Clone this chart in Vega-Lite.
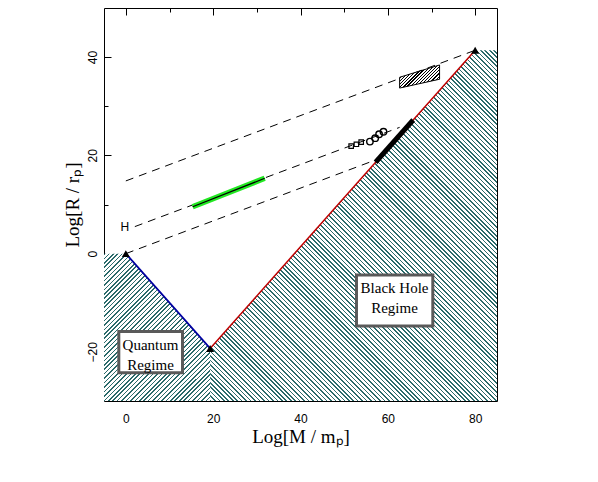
{
"$schema": "https://vega.github.io/schema/vega-lite/v6.json",
"width": 393, "height": 393,
"autosize": {"type": "none"},
"padding": {"left": 104, "top": 8, "right": 101, "bottom": 81},
"background": "white",
"config": {
  "view": {"stroke": null},
  "axis": {"grid": false, "zindex": 1, "domain": false, "tickColor": "black", "tickWidth": 1, "labelColor": "black", "labelFont": "Liberation Sans", "labelFontSize": 12, "labelFlush": false, "titleColor": "black", "titleFont": "Liberation Serif", "titleFontSize": 19, "titleFontWeight": "normal", "domainColor": "black", "domainWidth": 1}
},
"datasets": {
  "quantumHatch": [{"x": -5, "y": 0, "y2": -30}, {"x": 0, "y": 0, "y2": -30}, {"x": 19.3, "y": -19.3, "y2": -30}],
  "blackHoleHatch": [{"x": 19.3, "y": -19.3, "y2": -30}, {"x": 80, "y": 41.4, "y2": -30}, {"x": 85, "y": 41.4, "y2": -30}],
  "compton": [{"x": 0, "y": 0}, {"x": 19.3, "y": -19.3}],
  "schwarzschild": [{"x": 19.3, "y": -19.3}, {"x": 80, "y": 41.4}],
  "thick": [{"x": 57.2, "y": 18.6}, {"x": 65.8, "y": 27.2}],
  "density": [
    {"s": "upper", "x": 0, "y": 14.8}, {"s": "upper", "x": 80, "y": 41.4},
    {"s": "middle", "x": 2.06, "y": 5.5}, {"s": "middle", "x": 62.7, "y": 25.7},
    {"s": "lower", "x": 0, "y": 0}, {"s": "lower", "x": 57.2, "y": 19.07}
  ],
  "green": [{"x": 15.3, "y": 9.55}, {"x": 31.8, "y": 15.33}],
  "box": [{"x": 62.7, "y": 35.9, "y2": 33.7}, {"x": 71.85, "y": 38.4, "y2": 35.5}],
  "squares": [{"x": 51.6, "y": 21.9}, {"x": 52.8, "y": 22.26}, {"x": 53.9, "y": 22.7}],
  "circles": [{"x": 55.9, "y": 22.8}, {"x": 57.1, "y": 23.5}, {"x": 58.0, "y": 24.3}, {"x": 59.0, "y": 24.8}],
  "triangles": [{"x": 0, "y": 0}, {"x": 19.3, "y": -19.3}, {"x": 80, "y": 41.4}],
  "regimes": [
    {"label": "Quantum\nRegime", "x1": -1.61, "x2": 12.98, "y1": -24.26, "y2": -15.85, "xc": 5.65, "yc": -20.64},
    {"label": "Black Hole\nRegime", "x1": 52.82, "x2": 70.3, "y1": -14.73, "y2": -4.35, "xc": 61.53, "yc": -9.03}
  ],
  "hlabel": [{"x": -0.23, "y": 5.4, "label": "H"}]
},
"resolve": {"axis": {"x": "independent", "y": "independent"}},
"layer": [
{
  "data": {"name": "quantumHatch"},
  "mark": {"type": "area", "opacity": 1, "fill": {"gradient": "linear", "x1": 0, "y1": 0, "x2": 0.8155, "y2": 1.1329, "stops": [
{"offset":0,"color":"#2b6b6b"},{"offset":0.00625,"color":"#2b6b6b"},{"offset":0.00625,"color":"#fff"},{"offset":0.0175,"color":"#fff"},
{"offset":0.0175,"color":"#2b6b6b"},{"offset":0.02375,"color":"#2b6b6b"},{"offset":0.02375,"color":"#fff"},{"offset":0.035,"color":"#fff"},
{"offset":0.035,"color":"#2b6b6b"},{"offset":0.04125,"color":"#2b6b6b"},{"offset":0.04125,"color":"#fff"},{"offset":0.0525,"color":"#fff"},
{"offset":0.0525,"color":"#2b6b6b"},{"offset":0.05875,"color":"#2b6b6b"},{"offset":0.05875,"color":"#fff"},{"offset":0.07,"color":"#fff"},
{"offset":0.07,"color":"#2b6b6b"},{"offset":0.07625,"color":"#2b6b6b"},{"offset":0.07625,"color":"#fff"},{"offset":0.0875,"color":"#fff"},
{"offset":0.0875,"color":"#2b6b6b"},{"offset":0.09375,"color":"#2b6b6b"},{"offset":0.09375,"color":"#fff"},{"offset":0.105,"color":"#fff"},
{"offset":0.105,"color":"#2b6b6b"},{"offset":0.11125,"color":"#2b6b6b"},{"offset":0.11125,"color":"#fff"},{"offset":0.1225,"color":"#fff"},
{"offset":0.1225,"color":"#2b6b6b"},{"offset":0.12875,"color":"#2b6b6b"},{"offset":0.12875,"color":"#fff"},{"offset":0.14,"color":"#fff"},
{"offset":0.14,"color":"#2b6b6b"},{"offset":0.14625,"color":"#2b6b6b"},{"offset":0.14625,"color":"#fff"},{"offset":0.1575,"color":"#fff"},
{"offset":0.1575,"color":"#2b6b6b"},{"offset":0.16375,"color":"#2b6b6b"},{"offset":0.16375,"color":"#fff"},{"offset":0.175,"color":"#fff"},
{"offset":0.175,"color":"#2b6b6b"},{"offset":0.18125,"color":"#2b6b6b"},{"offset":0.18125,"color":"#fff"},{"offset":0.1925,"color":"#fff"},
{"offset":0.1925,"color":"#2b6b6b"},{"offset":0.19875,"color":"#2b6b6b"},{"offset":0.19875,"color":"#fff"},{"offset":0.21,"color":"#fff"},
{"offset":0.21,"color":"#2b6b6b"},{"offset":0.21625,"color":"#2b6b6b"},{"offset":0.21625,"color":"#fff"},{"offset":0.2275,"color":"#fff"},
{"offset":0.2275,"color":"#2b6b6b"},{"offset":0.23375,"color":"#2b6b6b"},{"offset":0.23375,"color":"#fff"},{"offset":0.245,"color":"#fff"},
{"offset":0.245,"color":"#2b6b6b"},{"offset":0.25125,"color":"#2b6b6b"},{"offset":0.25125,"color":"#fff"},{"offset":0.2625,"color":"#fff"},
{"offset":0.2625,"color":"#2b6b6b"},{"offset":0.26875,"color":"#2b6b6b"},{"offset":0.26875,"color":"#fff"},{"offset":0.28,"color":"#fff"},
{"offset":0.28,"color":"#2b6b6b"},{"offset":0.28625,"color":"#2b6b6b"},{"offset":0.28625,"color":"#fff"},{"offset":0.2975,"color":"#fff"},
{"offset":0.2975,"color":"#2b6b6b"},{"offset":0.30375,"color":"#2b6b6b"},{"offset":0.30375,"color":"#fff"},{"offset":0.315,"color":"#fff"},
{"offset":0.315,"color":"#2b6b6b"},{"offset":0.32125,"color":"#2b6b6b"},{"offset":0.32125,"color":"#fff"},{"offset":0.3325,"color":"#fff"},
{"offset":0.3325,"color":"#2b6b6b"},{"offset":0.33875,"color":"#2b6b6b"},{"offset":0.33875,"color":"#fff"},{"offset":0.35,"color":"#fff"},
{"offset":0.35,"color":"#2b6b6b"},{"offset":0.35625,"color":"#2b6b6b"},{"offset":0.35625,"color":"#fff"},{"offset":0.3675,"color":"#fff"},
{"offset":0.3675,"color":"#2b6b6b"},{"offset":0.37375,"color":"#2b6b6b"},{"offset":0.37375,"color":"#fff"},{"offset":0.385,"color":"#fff"},
{"offset":0.385,"color":"#2b6b6b"},{"offset":0.39125,"color":"#2b6b6b"},{"offset":0.39125,"color":"#fff"},{"offset":0.4025,"color":"#fff"},
{"offset":0.4025,"color":"#2b6b6b"},{"offset":0.40875,"color":"#2b6b6b"},{"offset":0.40875,"color":"#fff"},{"offset":0.42,"color":"#fff"},
{"offset":0.42,"color":"#2b6b6b"},{"offset":0.42625,"color":"#2b6b6b"},{"offset":0.42625,"color":"#fff"},{"offset":0.4375,"color":"#fff"},
{"offset":0.4375,"color":"#2b6b6b"},{"offset":0.44375,"color":"#2b6b6b"},{"offset":0.44375,"color":"#fff"},{"offset":0.455,"color":"#fff"},
{"offset":0.455,"color":"#2b6b6b"},{"offset":0.46125,"color":"#2b6b6b"},{"offset":0.46125,"color":"#fff"},{"offset":0.4725,"color":"#fff"},
{"offset":0.4725,"color":"#2b6b6b"},{"offset":0.47875,"color":"#2b6b6b"},{"offset":0.47875,"color":"#fff"},{"offset":0.49,"color":"#fff"},
{"offset":0.49,"color":"#2b6b6b"},{"offset":0.49625,"color":"#2b6b6b"},{"offset":0.49625,"color":"#fff"},{"offset":0.5075,"color":"#fff"},
{"offset":0.5075,"color":"#2b6b6b"},{"offset":0.51375,"color":"#2b6b6b"},{"offset":0.51375,"color":"#fff"},{"offset":0.525,"color":"#fff"},
{"offset":0.525,"color":"#2b6b6b"},{"offset":0.53125,"color":"#2b6b6b"},{"offset":0.53125,"color":"#fff"},{"offset":0.5425,"color":"#fff"},
{"offset":0.5425,"color":"#2b6b6b"},{"offset":0.54875,"color":"#2b6b6b"},{"offset":0.54875,"color":"#fff"},{"offset":0.56,"color":"#fff"},
{"offset":0.56,"color":"#2b6b6b"},{"offset":0.56625,"color":"#2b6b6b"},{"offset":0.56625,"color":"#fff"},{"offset":0.5775,"color":"#fff"},
{"offset":0.5775,"color":"#2b6b6b"},{"offset":0.58375,"color":"#2b6b6b"},{"offset":0.58375,"color":"#fff"},{"offset":0.595,"color":"#fff"},
{"offset":0.595,"color":"#2b6b6b"},{"offset":0.60125,"color":"#2b6b6b"},{"offset":0.60125,"color":"#fff"},{"offset":0.6125,"color":"#fff"},
{"offset":0.6125,"color":"#2b6b6b"},{"offset":0.61875,"color":"#2b6b6b"},{"offset":0.61875,"color":"#fff"},{"offset":0.63,"color":"#fff"},
{"offset":0.63,"color":"#2b6b6b"},{"offset":0.63625,"color":"#2b6b6b"},{"offset":0.63625,"color":"#fff"},{"offset":0.6475,"color":"#fff"},
{"offset":0.6475,"color":"#2b6b6b"},{"offset":0.65375,"color":"#2b6b6b"},{"offset":0.65375,"color":"#fff"},{"offset":0.665,"color":"#fff"},
{"offset":0.665,"color":"#2b6b6b"},{"offset":0.67125,"color":"#2b6b6b"},{"offset":0.67125,"color":"#fff"},{"offset":0.6825,"color":"#fff"},
{"offset":0.6825,"color":"#2b6b6b"},{"offset":0.68875,"color":"#2b6b6b"},{"offset":0.68875,"color":"#fff"},{"offset":0.7,"color":"#fff"},
{"offset":0.7,"color":"#2b6b6b"},{"offset":0.70625,"color":"#2b6b6b"},{"offset":0.70625,"color":"#fff"},{"offset":0.7175,"color":"#fff"},
{"offset":0.7175,"color":"#2b6b6b"},{"offset":0.72375,"color":"#2b6b6b"},{"offset":0.72375,"color":"#fff"},{"offset":0.735,"color":"#fff"},
{"offset":0.735,"color":"#2b6b6b"},{"offset":0.74125,"color":"#2b6b6b"},{"offset":0.74125,"color":"#fff"},{"offset":0.7525,"color":"#fff"},
{"offset":0.7525,"color":"#2b6b6b"},{"offset":0.75875,"color":"#2b6b6b"},{"offset":0.75875,"color":"#fff"},{"offset":0.77,"color":"#fff"},
{"offset":0.77,"color":"#2b6b6b"},{"offset":0.77625,"color":"#2b6b6b"},{"offset":0.77625,"color":"#fff"},{"offset":0.7875,"color":"#fff"},
{"offset":0.7875,"color":"#2b6b6b"},{"offset":0.79375,"color":"#2b6b6b"},{"offset":0.79375,"color":"#fff"},{"offset":0.805,"color":"#fff"},
{"offset":0.805,"color":"#2b6b6b"},{"offset":0.81125,"color":"#2b6b6b"},{"offset":0.81125,"color":"#fff"},{"offset":0.8225,"color":"#fff"},
{"offset":0.8225,"color":"#2b6b6b"},{"offset":0.82875,"color":"#2b6b6b"},{"offset":0.82875,"color":"#fff"},{"offset":0.84,"color":"#fff"},
{"offset":0.84,"color":"#2b6b6b"},{"offset":0.84625,"color":"#2b6b6b"},{"offset":0.84625,"color":"#fff"},{"offset":0.8575,"color":"#fff"},
{"offset":0.8575,"color":"#2b6b6b"},{"offset":0.86375,"color":"#2b6b6b"},{"offset":0.86375,"color":"#fff"},{"offset":0.875,"color":"#fff"},
{"offset":0.875,"color":"#2b6b6b"},{"offset":0.88125,"color":"#2b6b6b"},{"offset":0.88125,"color":"#fff"},{"offset":0.8925,"color":"#fff"},
{"offset":0.8925,"color":"#2b6b6b"},{"offset":0.89875,"color":"#2b6b6b"},{"offset":0.89875,"color":"#fff"},{"offset":0.91,"color":"#fff"},
{"offset":0.91,"color":"#2b6b6b"},{"offset":0.91625,"color":"#2b6b6b"},{"offset":0.91625,"color":"#fff"},{"offset":0.9275,"color":"#fff"},
{"offset":0.9275,"color":"#2b6b6b"},{"offset":0.93375,"color":"#2b6b6b"},{"offset":0.93375,"color":"#fff"},{"offset":0.945,"color":"#fff"},
{"offset":0.945,"color":"#2b6b6b"},{"offset":0.95125,"color":"#2b6b6b"},{"offset":0.95125,"color":"#fff"},{"offset":0.9625,"color":"#fff"},
{"offset":0.9625,"color":"#2b6b6b"},{"offset":0.96875,"color":"#2b6b6b"},{"offset":0.96875,"color":"#fff"},{"offset":0.98,"color":"#fff"},
{"offset":0.98,"color":"#2b6b6b"},{"offset":0.98625,"color":"#2b6b6b"},{"offset":0.98625,"color":"#fff"},{"offset":1,"color":"#fff"}
  ]}},
  "encoding": {
    "x": {"field": "x", "type": "quantitative", "scale": {"domain": [-5, 85], "nice": false, "zero": false},
          "axis": {"orient": "bottom", "values": [0, 20, 40, 60, 80], "tickSize": -7, "labels": false, "title": null, "domain": true}},
    "y": {"field": "y", "type": "quantitative", "scale": {"domain": [-30, 50], "nice": false, "zero": false},
          "axis": {"orient": "left", "values": [-20, 0, 20, 40], "tickSize": -7, "labels": false, "title": null, "domain": true}},
    "y2": {"field": "y2"}
  }
},
{
  "data": {"name": "blackHoleHatch"},
  "mark": {"type": "area", "opacity": 1, "fill": {"gradient": "linear", "x1": 0, "y1": 1, "x2": 0.8909, "y2": -0.0892, "stops": [
{"offset":0,"color":"#2b6b6b"},{"offset":0.0025,"color":"#2b6b6b"},{"offset":0.0025,"color":"#fff"},{"offset":0.007,"color":"#fff"},
{"offset":0.007,"color":"#2b6b6b"},{"offset":0.0095,"color":"#2b6b6b"},{"offset":0.0095,"color":"#fff"},{"offset":0.014,"color":"#fff"},
{"offset":0.014,"color":"#2b6b6b"},{"offset":0.0165,"color":"#2b6b6b"},{"offset":0.0165,"color":"#fff"},{"offset":0.021,"color":"#fff"},
{"offset":0.021,"color":"#2b6b6b"},{"offset":0.0235,"color":"#2b6b6b"},{"offset":0.0235,"color":"#fff"},{"offset":0.028,"color":"#fff"},
{"offset":0.028,"color":"#2b6b6b"},{"offset":0.0305,"color":"#2b6b6b"},{"offset":0.0305,"color":"#fff"},{"offset":0.035,"color":"#fff"},
{"offset":0.035,"color":"#2b6b6b"},{"offset":0.0375,"color":"#2b6b6b"},{"offset":0.0375,"color":"#fff"},{"offset":0.042,"color":"#fff"},
{"offset":0.042,"color":"#2b6b6b"},{"offset":0.0445,"color":"#2b6b6b"},{"offset":0.0445,"color":"#fff"},{"offset":0.049,"color":"#fff"},
{"offset":0.049,"color":"#2b6b6b"},{"offset":0.0515,"color":"#2b6b6b"},{"offset":0.0515,"color":"#fff"},{"offset":0.056,"color":"#fff"},
{"offset":0.056,"color":"#2b6b6b"},{"offset":0.0585,"color":"#2b6b6b"},{"offset":0.0585,"color":"#fff"},{"offset":0.063,"color":"#fff"},
{"offset":0.063,"color":"#2b6b6b"},{"offset":0.0655,"color":"#2b6b6b"},{"offset":0.0655,"color":"#fff"},{"offset":0.07,"color":"#fff"},
{"offset":0.07,"color":"#2b6b6b"},{"offset":0.0725,"color":"#2b6b6b"},{"offset":0.0725,"color":"#fff"},{"offset":0.077,"color":"#fff"},
{"offset":0.077,"color":"#2b6b6b"},{"offset":0.0795,"color":"#2b6b6b"},{"offset":0.0795,"color":"#fff"},{"offset":0.084,"color":"#fff"},
{"offset":0.084,"color":"#2b6b6b"},{"offset":0.0865,"color":"#2b6b6b"},{"offset":0.0865,"color":"#fff"},{"offset":0.091,"color":"#fff"},
{"offset":0.091,"color":"#2b6b6b"},{"offset":0.0935,"color":"#2b6b6b"},{"offset":0.0935,"color":"#fff"},{"offset":0.098,"color":"#fff"},
{"offset":0.098,"color":"#2b6b6b"},{"offset":0.1005,"color":"#2b6b6b"},{"offset":0.1005,"color":"#fff"},{"offset":0.105,"color":"#fff"},
{"offset":0.105,"color":"#2b6b6b"},{"offset":0.1075,"color":"#2b6b6b"},{"offset":0.1075,"color":"#fff"},{"offset":0.112,"color":"#fff"},
{"offset":0.112,"color":"#2b6b6b"},{"offset":0.1145,"color":"#2b6b6b"},{"offset":0.1145,"color":"#fff"},{"offset":0.119,"color":"#fff"},
{"offset":0.119,"color":"#2b6b6b"},{"offset":0.1215,"color":"#2b6b6b"},{"offset":0.1215,"color":"#fff"},{"offset":0.126,"color":"#fff"},
{"offset":0.126,"color":"#2b6b6b"},{"offset":0.1285,"color":"#2b6b6b"},{"offset":0.1285,"color":"#fff"},{"offset":0.133,"color":"#fff"},
{"offset":0.133,"color":"#2b6b6b"},{"offset":0.1355,"color":"#2b6b6b"},{"offset":0.1355,"color":"#fff"},{"offset":0.14,"color":"#fff"},
{"offset":0.14,"color":"#2b6b6b"},{"offset":0.1425,"color":"#2b6b6b"},{"offset":0.1425,"color":"#fff"},{"offset":0.147,"color":"#fff"},
{"offset":0.147,"color":"#2b6b6b"},{"offset":0.1495,"color":"#2b6b6b"},{"offset":0.1495,"color":"#fff"},{"offset":0.154,"color":"#fff"},
{"offset":0.154,"color":"#2b6b6b"},{"offset":0.1565,"color":"#2b6b6b"},{"offset":0.1565,"color":"#fff"},{"offset":0.161,"color":"#fff"},
{"offset":0.161,"color":"#2b6b6b"},{"offset":0.1635,"color":"#2b6b6b"},{"offset":0.1635,"color":"#fff"},{"offset":0.168,"color":"#fff"},
{"offset":0.168,"color":"#2b6b6b"},{"offset":0.1705,"color":"#2b6b6b"},{"offset":0.1705,"color":"#fff"},{"offset":0.175,"color":"#fff"},
{"offset":0.175,"color":"#2b6b6b"},{"offset":0.1775,"color":"#2b6b6b"},{"offset":0.1775,"color":"#fff"},{"offset":0.182,"color":"#fff"},
{"offset":0.182,"color":"#2b6b6b"},{"offset":0.1845,"color":"#2b6b6b"},{"offset":0.1845,"color":"#fff"},{"offset":0.189,"color":"#fff"},
{"offset":0.189,"color":"#2b6b6b"},{"offset":0.1915,"color":"#2b6b6b"},{"offset":0.1915,"color":"#fff"},{"offset":0.196,"color":"#fff"},
{"offset":0.196,"color":"#2b6b6b"},{"offset":0.1985,"color":"#2b6b6b"},{"offset":0.1985,"color":"#fff"},{"offset":0.203,"color":"#fff"},
{"offset":0.203,"color":"#2b6b6b"},{"offset":0.2055,"color":"#2b6b6b"},{"offset":0.2055,"color":"#fff"},{"offset":0.21,"color":"#fff"},
{"offset":0.21,"color":"#2b6b6b"},{"offset":0.2125,"color":"#2b6b6b"},{"offset":0.2125,"color":"#fff"},{"offset":0.217,"color":"#fff"},
{"offset":0.217,"color":"#2b6b6b"},{"offset":0.2195,"color":"#2b6b6b"},{"offset":0.2195,"color":"#fff"},{"offset":0.224,"color":"#fff"},
{"offset":0.224,"color":"#2b6b6b"},{"offset":0.2265,"color":"#2b6b6b"},{"offset":0.2265,"color":"#fff"},{"offset":0.231,"color":"#fff"},
{"offset":0.231,"color":"#2b6b6b"},{"offset":0.2335,"color":"#2b6b6b"},{"offset":0.2335,"color":"#fff"},{"offset":0.238,"color":"#fff"},
{"offset":0.238,"color":"#2b6b6b"},{"offset":0.2405,"color":"#2b6b6b"},{"offset":0.2405,"color":"#fff"},{"offset":0.245,"color":"#fff"},
{"offset":0.245,"color":"#2b6b6b"},{"offset":0.2475,"color":"#2b6b6b"},{"offset":0.2475,"color":"#fff"},{"offset":0.252,"color":"#fff"},
{"offset":0.252,"color":"#2b6b6b"},{"offset":0.2545,"color":"#2b6b6b"},{"offset":0.2545,"color":"#fff"},{"offset":0.259,"color":"#fff"},
{"offset":0.259,"color":"#2b6b6b"},{"offset":0.2615,"color":"#2b6b6b"},{"offset":0.2615,"color":"#fff"},{"offset":0.266,"color":"#fff"},
{"offset":0.266,"color":"#2b6b6b"},{"offset":0.2685,"color":"#2b6b6b"},{"offset":0.2685,"color":"#fff"},{"offset":0.273,"color":"#fff"},
{"offset":0.273,"color":"#2b6b6b"},{"offset":0.2755,"color":"#2b6b6b"},{"offset":0.2755,"color":"#fff"},{"offset":0.28,"color":"#fff"},
{"offset":0.28,"color":"#2b6b6b"},{"offset":0.2825,"color":"#2b6b6b"},{"offset":0.2825,"color":"#fff"},{"offset":0.287,"color":"#fff"},
{"offset":0.287,"color":"#2b6b6b"},{"offset":0.2895,"color":"#2b6b6b"},{"offset":0.2895,"color":"#fff"},{"offset":0.294,"color":"#fff"},
{"offset":0.294,"color":"#2b6b6b"},{"offset":0.2965,"color":"#2b6b6b"},{"offset":0.2965,"color":"#fff"},{"offset":0.301,"color":"#fff"},
{"offset":0.301,"color":"#2b6b6b"},{"offset":0.3035,"color":"#2b6b6b"},{"offset":0.3035,"color":"#fff"},{"offset":0.308,"color":"#fff"},
{"offset":0.308,"color":"#2b6b6b"},{"offset":0.3105,"color":"#2b6b6b"},{"offset":0.3105,"color":"#fff"},{"offset":0.315,"color":"#fff"},
{"offset":0.315,"color":"#2b6b6b"},{"offset":0.3175,"color":"#2b6b6b"},{"offset":0.3175,"color":"#fff"},{"offset":0.322,"color":"#fff"},
{"offset":0.322,"color":"#2b6b6b"},{"offset":0.3245,"color":"#2b6b6b"},{"offset":0.3245,"color":"#fff"},{"offset":0.329,"color":"#fff"},
{"offset":0.329,"color":"#2b6b6b"},{"offset":0.3315,"color":"#2b6b6b"},{"offset":0.3315,"color":"#fff"},{"offset":0.336,"color":"#fff"},
{"offset":0.336,"color":"#2b6b6b"},{"offset":0.3385,"color":"#2b6b6b"},{"offset":0.3385,"color":"#fff"},{"offset":0.343,"color":"#fff"},
{"offset":0.343,"color":"#2b6b6b"},{"offset":0.3455,"color":"#2b6b6b"},{"offset":0.3455,"color":"#fff"},{"offset":0.35,"color":"#fff"},
{"offset":0.35,"color":"#2b6b6b"},{"offset":0.3525,"color":"#2b6b6b"},{"offset":0.3525,"color":"#fff"},{"offset":0.357,"color":"#fff"},
{"offset":0.357,"color":"#2b6b6b"},{"offset":0.3595,"color":"#2b6b6b"},{"offset":0.3595,"color":"#fff"},{"offset":0.364,"color":"#fff"},
{"offset":0.364,"color":"#2b6b6b"},{"offset":0.3665,"color":"#2b6b6b"},{"offset":0.3665,"color":"#fff"},{"offset":0.371,"color":"#fff"},
{"offset":0.371,"color":"#2b6b6b"},{"offset":0.3735,"color":"#2b6b6b"},{"offset":0.3735,"color":"#fff"},{"offset":0.378,"color":"#fff"},
{"offset":0.378,"color":"#2b6b6b"},{"offset":0.3805,"color":"#2b6b6b"},{"offset":0.3805,"color":"#fff"},{"offset":0.385,"color":"#fff"},
{"offset":0.385,"color":"#2b6b6b"},{"offset":0.3875,"color":"#2b6b6b"},{"offset":0.3875,"color":"#fff"},{"offset":0.392,"color":"#fff"},
{"offset":0.392,"color":"#2b6b6b"},{"offset":0.3945,"color":"#2b6b6b"},{"offset":0.3945,"color":"#fff"},{"offset":0.399,"color":"#fff"},
{"offset":0.399,"color":"#2b6b6b"},{"offset":0.4015,"color":"#2b6b6b"},{"offset":0.4015,"color":"#fff"},{"offset":0.406,"color":"#fff"},
{"offset":0.406,"color":"#2b6b6b"},{"offset":0.4085,"color":"#2b6b6b"},{"offset":0.4085,"color":"#fff"},{"offset":0.413,"color":"#fff"},
{"offset":0.413,"color":"#2b6b6b"},{"offset":0.4155,"color":"#2b6b6b"},{"offset":0.4155,"color":"#fff"},{"offset":0.42,"color":"#fff"},
{"offset":0.42,"color":"#2b6b6b"},{"offset":0.4225,"color":"#2b6b6b"},{"offset":0.4225,"color":"#fff"},{"offset":0.427,"color":"#fff"},
{"offset":0.427,"color":"#2b6b6b"},{"offset":0.4295,"color":"#2b6b6b"},{"offset":0.4295,"color":"#fff"},{"offset":0.434,"color":"#fff"},
{"offset":0.434,"color":"#2b6b6b"},{"offset":0.4365,"color":"#2b6b6b"},{"offset":0.4365,"color":"#fff"},{"offset":0.441,"color":"#fff"},
{"offset":0.441,"color":"#2b6b6b"},{"offset":0.4435,"color":"#2b6b6b"},{"offset":0.4435,"color":"#fff"},{"offset":0.448,"color":"#fff"},
{"offset":0.448,"color":"#2b6b6b"},{"offset":0.4505,"color":"#2b6b6b"},{"offset":0.4505,"color":"#fff"},{"offset":0.455,"color":"#fff"},
{"offset":0.455,"color":"#2b6b6b"},{"offset":0.4575,"color":"#2b6b6b"},{"offset":0.4575,"color":"#fff"},{"offset":0.462,"color":"#fff"},
{"offset":0.462,"color":"#2b6b6b"},{"offset":0.4645,"color":"#2b6b6b"},{"offset":0.4645,"color":"#fff"},{"offset":0.469,"color":"#fff"},
{"offset":0.469,"color":"#2b6b6b"},{"offset":0.4715,"color":"#2b6b6b"},{"offset":0.4715,"color":"#fff"},{"offset":0.476,"color":"#fff"},
{"offset":0.476,"color":"#2b6b6b"},{"offset":0.4785,"color":"#2b6b6b"},{"offset":0.4785,"color":"#fff"},{"offset":0.483,"color":"#fff"},
{"offset":0.483,"color":"#2b6b6b"},{"offset":0.4855,"color":"#2b6b6b"},{"offset":0.4855,"color":"#fff"},{"offset":0.49,"color":"#fff"},
{"offset":0.49,"color":"#2b6b6b"},{"offset":0.4925,"color":"#2b6b6b"},{"offset":0.4925,"color":"#fff"},{"offset":0.497,"color":"#fff"},
{"offset":0.497,"color":"#2b6b6b"},{"offset":0.4995,"color":"#2b6b6b"},{"offset":0.4995,"color":"#fff"},{"offset":0.504,"color":"#fff"},
{"offset":0.504,"color":"#2b6b6b"},{"offset":0.5065,"color":"#2b6b6b"},{"offset":0.5065,"color":"#fff"},{"offset":0.511,"color":"#fff"},
{"offset":0.511,"color":"#2b6b6b"},{"offset":0.5135,"color":"#2b6b6b"},{"offset":0.5135,"color":"#fff"},{"offset":0.518,"color":"#fff"},
{"offset":0.518,"color":"#2b6b6b"},{"offset":0.5205,"color":"#2b6b6b"},{"offset":0.5205,"color":"#fff"},{"offset":0.525,"color":"#fff"},
{"offset":0.525,"color":"#2b6b6b"},{"offset":0.5275,"color":"#2b6b6b"},{"offset":0.5275,"color":"#fff"},{"offset":0.532,"color":"#fff"},
{"offset":0.532,"color":"#2b6b6b"},{"offset":0.5345,"color":"#2b6b6b"},{"offset":0.5345,"color":"#fff"},{"offset":0.539,"color":"#fff"},
{"offset":0.539,"color":"#2b6b6b"},{"offset":0.5415,"color":"#2b6b6b"},{"offset":0.5415,"color":"#fff"},{"offset":0.546,"color":"#fff"},
{"offset":0.546,"color":"#2b6b6b"},{"offset":0.5485,"color":"#2b6b6b"},{"offset":0.5485,"color":"#fff"},{"offset":0.553,"color":"#fff"},
{"offset":0.553,"color":"#2b6b6b"},{"offset":0.5555,"color":"#2b6b6b"},{"offset":0.5555,"color":"#fff"},{"offset":0.56,"color":"#fff"},
{"offset":0.56,"color":"#2b6b6b"},{"offset":0.5625,"color":"#2b6b6b"},{"offset":0.5625,"color":"#fff"},{"offset":0.567,"color":"#fff"},
{"offset":0.567,"color":"#2b6b6b"},{"offset":0.5695,"color":"#2b6b6b"},{"offset":0.5695,"color":"#fff"},{"offset":0.574,"color":"#fff"},
{"offset":0.574,"color":"#2b6b6b"},{"offset":0.5765,"color":"#2b6b6b"},{"offset":0.5765,"color":"#fff"},{"offset":0.581,"color":"#fff"},
{"offset":0.581,"color":"#2b6b6b"},{"offset":0.5835,"color":"#2b6b6b"},{"offset":0.5835,"color":"#fff"},{"offset":0.588,"color":"#fff"},
{"offset":0.588,"color":"#2b6b6b"},{"offset":0.5905,"color":"#2b6b6b"},{"offset":0.5905,"color":"#fff"},{"offset":0.595,"color":"#fff"},
{"offset":0.595,"color":"#2b6b6b"},{"offset":0.5975,"color":"#2b6b6b"},{"offset":0.5975,"color":"#fff"},{"offset":0.602,"color":"#fff"},
{"offset":0.602,"color":"#2b6b6b"},{"offset":0.6045,"color":"#2b6b6b"},{"offset":0.6045,"color":"#fff"},{"offset":0.609,"color":"#fff"},
{"offset":0.609,"color":"#2b6b6b"},{"offset":0.6115,"color":"#2b6b6b"},{"offset":0.6115,"color":"#fff"},{"offset":0.616,"color":"#fff"},
{"offset":0.616,"color":"#2b6b6b"},{"offset":0.6185,"color":"#2b6b6b"},{"offset":0.6185,"color":"#fff"},{"offset":0.623,"color":"#fff"},
{"offset":0.623,"color":"#2b6b6b"},{"offset":0.6255,"color":"#2b6b6b"},{"offset":0.6255,"color":"#fff"},{"offset":0.63,"color":"#fff"},
{"offset":0.63,"color":"#2b6b6b"},{"offset":0.6325,"color":"#2b6b6b"},{"offset":0.6325,"color":"#fff"},{"offset":0.637,"color":"#fff"},
{"offset":0.637,"color":"#2b6b6b"},{"offset":0.6395,"color":"#2b6b6b"},{"offset":0.6395,"color":"#fff"},{"offset":0.644,"color":"#fff"},
{"offset":0.644,"color":"#2b6b6b"},{"offset":0.6465,"color":"#2b6b6b"},{"offset":0.6465,"color":"#fff"},{"offset":0.651,"color":"#fff"},
{"offset":0.651,"color":"#2b6b6b"},{"offset":0.6535,"color":"#2b6b6b"},{"offset":0.6535,"color":"#fff"},{"offset":0.658,"color":"#fff"},
{"offset":0.658,"color":"#2b6b6b"},{"offset":0.6605,"color":"#2b6b6b"},{"offset":0.6605,"color":"#fff"},{"offset":0.665,"color":"#fff"},
{"offset":0.665,"color":"#2b6b6b"},{"offset":0.6675,"color":"#2b6b6b"},{"offset":0.6675,"color":"#fff"},{"offset":0.672,"color":"#fff"},
{"offset":0.672,"color":"#2b6b6b"},{"offset":0.6745,"color":"#2b6b6b"},{"offset":0.6745,"color":"#fff"},{"offset":0.679,"color":"#fff"},
{"offset":0.679,"color":"#2b6b6b"},{"offset":0.6815,"color":"#2b6b6b"},{"offset":0.6815,"color":"#fff"},{"offset":0.686,"color":"#fff"},
{"offset":0.686,"color":"#2b6b6b"},{"offset":0.6885,"color":"#2b6b6b"},{"offset":0.6885,"color":"#fff"},{"offset":0.693,"color":"#fff"},
{"offset":0.693,"color":"#2b6b6b"},{"offset":0.6955,"color":"#2b6b6b"},{"offset":0.6955,"color":"#fff"},{"offset":0.7,"color":"#fff"},
{"offset":0.7,"color":"#2b6b6b"},{"offset":0.7025,"color":"#2b6b6b"},{"offset":0.7025,"color":"#fff"},{"offset":0.707,"color":"#fff"},
{"offset":0.707,"color":"#2b6b6b"},{"offset":0.7095,"color":"#2b6b6b"},{"offset":0.7095,"color":"#fff"},{"offset":0.714,"color":"#fff"},
{"offset":0.714,"color":"#2b6b6b"},{"offset":0.7165,"color":"#2b6b6b"},{"offset":0.7165,"color":"#fff"},{"offset":0.721,"color":"#fff"},
{"offset":0.721,"color":"#2b6b6b"},{"offset":0.7235,"color":"#2b6b6b"},{"offset":0.7235,"color":"#fff"},{"offset":0.728,"color":"#fff"},
{"offset":0.728,"color":"#2b6b6b"},{"offset":0.7305,"color":"#2b6b6b"},{"offset":0.7305,"color":"#fff"},{"offset":0.735,"color":"#fff"},
{"offset":0.735,"color":"#2b6b6b"},{"offset":0.7375,"color":"#2b6b6b"},{"offset":0.7375,"color":"#fff"},{"offset":0.742,"color":"#fff"},
{"offset":0.742,"color":"#2b6b6b"},{"offset":0.7445,"color":"#2b6b6b"},{"offset":0.7445,"color":"#fff"},{"offset":0.749,"color":"#fff"},
{"offset":0.749,"color":"#2b6b6b"},{"offset":0.7515,"color":"#2b6b6b"},{"offset":0.7515,"color":"#fff"},{"offset":0.756,"color":"#fff"},
{"offset":0.756,"color":"#2b6b6b"},{"offset":0.7585,"color":"#2b6b6b"},{"offset":0.7585,"color":"#fff"},{"offset":0.763,"color":"#fff"},
{"offset":0.763,"color":"#2b6b6b"},{"offset":0.7655,"color":"#2b6b6b"},{"offset":0.7655,"color":"#fff"},{"offset":0.77,"color":"#fff"},
{"offset":0.77,"color":"#2b6b6b"},{"offset":0.7725,"color":"#2b6b6b"},{"offset":0.7725,"color":"#fff"},{"offset":0.777,"color":"#fff"},
{"offset":0.777,"color":"#2b6b6b"},{"offset":0.7795,"color":"#2b6b6b"},{"offset":0.7795,"color":"#fff"},{"offset":0.784,"color":"#fff"},
{"offset":0.784,"color":"#2b6b6b"},{"offset":0.7865,"color":"#2b6b6b"},{"offset":0.7865,"color":"#fff"},{"offset":0.791,"color":"#fff"},
{"offset":0.791,"color":"#2b6b6b"},{"offset":0.7935,"color":"#2b6b6b"},{"offset":0.7935,"color":"#fff"},{"offset":0.798,"color":"#fff"},
{"offset":0.798,"color":"#2b6b6b"},{"offset":0.8005,"color":"#2b6b6b"},{"offset":0.8005,"color":"#fff"},{"offset":0.805,"color":"#fff"},
{"offset":0.805,"color":"#2b6b6b"},{"offset":0.8075,"color":"#2b6b6b"},{"offset":0.8075,"color":"#fff"},{"offset":0.812,"color":"#fff"},
{"offset":0.812,"color":"#2b6b6b"},{"offset":0.8145,"color":"#2b6b6b"},{"offset":0.8145,"color":"#fff"},{"offset":0.819,"color":"#fff"},
{"offset":0.819,"color":"#2b6b6b"},{"offset":0.8215,"color":"#2b6b6b"},{"offset":0.8215,"color":"#fff"},{"offset":0.826,"color":"#fff"},
{"offset":0.826,"color":"#2b6b6b"},{"offset":0.8285,"color":"#2b6b6b"},{"offset":0.8285,"color":"#fff"},{"offset":0.833,"color":"#fff"},
{"offset":0.833,"color":"#2b6b6b"},{"offset":0.8355,"color":"#2b6b6b"},{"offset":0.8355,"color":"#fff"},{"offset":0.84,"color":"#fff"},
{"offset":0.84,"color":"#2b6b6b"},{"offset":0.8425,"color":"#2b6b6b"},{"offset":0.8425,"color":"#fff"},{"offset":0.847,"color":"#fff"},
{"offset":0.847,"color":"#2b6b6b"},{"offset":0.8495,"color":"#2b6b6b"},{"offset":0.8495,"color":"#fff"},{"offset":0.854,"color":"#fff"},
{"offset":0.854,"color":"#2b6b6b"},{"offset":0.8565,"color":"#2b6b6b"},{"offset":0.8565,"color":"#fff"},{"offset":0.861,"color":"#fff"},
{"offset":0.861,"color":"#2b6b6b"},{"offset":0.8635,"color":"#2b6b6b"},{"offset":0.8635,"color":"#fff"},{"offset":0.868,"color":"#fff"},
{"offset":0.868,"color":"#2b6b6b"},{"offset":0.8705,"color":"#2b6b6b"},{"offset":0.8705,"color":"#fff"},{"offset":0.875,"color":"#fff"},
{"offset":0.875,"color":"#2b6b6b"},{"offset":0.8775,"color":"#2b6b6b"},{"offset":0.8775,"color":"#fff"},{"offset":0.882,"color":"#fff"},
{"offset":0.882,"color":"#2b6b6b"},{"offset":0.8845,"color":"#2b6b6b"},{"offset":0.8845,"color":"#fff"},{"offset":0.889,"color":"#fff"},
{"offset":0.889,"color":"#2b6b6b"},{"offset":0.8915,"color":"#2b6b6b"},{"offset":0.8915,"color":"#fff"},{"offset":0.896,"color":"#fff"},
{"offset":0.896,"color":"#2b6b6b"},{"offset":0.8985,"color":"#2b6b6b"},{"offset":0.8985,"color":"#fff"},{"offset":0.903,"color":"#fff"},
{"offset":0.903,"color":"#2b6b6b"},{"offset":0.9055,"color":"#2b6b6b"},{"offset":0.9055,"color":"#fff"},{"offset":0.91,"color":"#fff"},
{"offset":0.91,"color":"#2b6b6b"},{"offset":0.9125,"color":"#2b6b6b"},{"offset":0.9125,"color":"#fff"},{"offset":0.917,"color":"#fff"},
{"offset":0.917,"color":"#2b6b6b"},{"offset":0.9195,"color":"#2b6b6b"},{"offset":0.9195,"color":"#fff"},{"offset":0.924,"color":"#fff"},
{"offset":0.924,"color":"#2b6b6b"},{"offset":0.9265,"color":"#2b6b6b"},{"offset":0.9265,"color":"#fff"},{"offset":0.931,"color":"#fff"},
{"offset":0.931,"color":"#2b6b6b"},{"offset":0.9335,"color":"#2b6b6b"},{"offset":0.9335,"color":"#fff"},{"offset":0.938,"color":"#fff"},
{"offset":0.938,"color":"#2b6b6b"},{"offset":0.9405,"color":"#2b6b6b"},{"offset":0.9405,"color":"#fff"},{"offset":0.945,"color":"#fff"},
{"offset":0.945,"color":"#2b6b6b"},{"offset":0.9475,"color":"#2b6b6b"},{"offset":0.9475,"color":"#fff"},{"offset":0.952,"color":"#fff"},
{"offset":0.952,"color":"#2b6b6b"},{"offset":0.9545,"color":"#2b6b6b"},{"offset":0.9545,"color":"#fff"},{"offset":0.959,"color":"#fff"},
{"offset":0.959,"color":"#2b6b6b"},{"offset":0.9615,"color":"#2b6b6b"},{"offset":0.9615,"color":"#fff"},{"offset":0.966,"color":"#fff"},
{"offset":0.966,"color":"#2b6b6b"},{"offset":0.9685,"color":"#2b6b6b"},{"offset":0.9685,"color":"#fff"},{"offset":0.973,"color":"#fff"},
{"offset":0.973,"color":"#2b6b6b"},{"offset":0.9755,"color":"#2b6b6b"},{"offset":0.9755,"color":"#fff"},{"offset":0.98,"color":"#fff"},
{"offset":0.98,"color":"#2b6b6b"},{"offset":0.9825,"color":"#2b6b6b"},{"offset":0.9825,"color":"#fff"},{"offset":0.987,"color":"#fff"},
{"offset":0.987,"color":"#2b6b6b"},{"offset":0.9895,"color":"#2b6b6b"},{"offset":0.9895,"color":"#fff"},{"offset":0.994,"color":"#fff"},
{"offset":0.994,"color":"#2b6b6b"},{"offset":0.9965,"color":"#2b6b6b"},{"offset":0.9965,"color":"#fff"},{"offset":1,"color":"#fff"}
  ]}},
  "encoding": {
    "x": {"field": "x", "type": "quantitative", "axis": {"orient": "bottom", "values": [10, 30, 50, 70], "tickSize": -4, "labels": false, "title": null}},
    "y": {"field": "y", "type": "quantitative", "axis": {"orient": "left", "values": [-10, 10, 30], "tickSize": -4, "labels": false, "title": null}},
    "y2": {"field": "y2"}
  }
},
{
  "data": {"name": "compton"},
  "mark": {"type": "line", "color": "#0000a0", "strokeWidth": 1.8},
  "encoding": {
    "x": {"field": "x", "type": "quantitative", "axis": {"orient": "bottom", "values": [0, 20, 40, 60, 80], "ticks": false, "tickSize": 0, "labelPadding": 12, "title": "Log[M / mₚ]", "titlePadding": 3}},
    "y": {"field": "y", "type": "quantitative", "axis": {"orient": "left", "values": [-20, 0, 20, 40], "ticks": false, "tickSize": 0, "labelAngle": -90, "labelAlign": "center", "labelBaseline": "bottom", "labelPadding": 5, "title": "Log[R / rₚ]", "titlePadding": 4}}
  }
},
{
  "data": {"name": "schwarzschild"},
  "mark": {"type": "line", "color": "#c00000", "strokeWidth": 1.5},
  "encoding": {
    "x": {"field": "x", "type": "quantitative", "axis": {"orient": "top", "values": [0, 20, 40, 60, 80], "tickSize": -7, "labels": false, "title": null, "domain": true}},
    "y": {"field": "y", "type": "quantitative", "axis": {"orient": "right", "values": [-20, 0, 20, 40], "tickSize": -7, "labels": false, "title": null, "domain": true}}
  }
},
{
  "data": {"name": "thick"},
  "mark": {"type": "line", "color": "black", "strokeWidth": 5, "strokeCap": "butt"},
  "encoding": {
    "x": {"field": "x", "type": "quantitative", "axis": {"orient": "top", "values": [10, 30, 50, 70], "tickSize": -4, "labels": false, "title": null}},
    "y": {"field": "y", "type": "quantitative", "axis": {"orient": "right", "values": [-10, 10, 30], "tickSize": -4, "labels": false, "title": null}}
  }
},
{
  "data": {"name": "density"},
  "mark": {"type": "line", "color": "black", "strokeWidth": 1, "strokeDash": [8, 6]},
  "encoding": {
    "x": {"field": "x", "type": "quantitative", "axis": null},
    "y": {"field": "y", "type": "quantitative", "axis": null},
    "detail": {"field": "s"}
  }
},
{
  "data": {"name": "green"},
  "mark": {"type": "line", "color": "#22e822", "strokeWidth": 5.5, "strokeCap": "butt"},
  "encoding": {
    "x": {"field": "x", "type": "quantitative", "axis": null},
    "y": {"field": "y", "type": "quantitative", "axis": null}
  }
},
{
  "data": {"name": "green"},
  "mark": {"type": "line", "color": "black", "strokeWidth": 1.2},
  "encoding": {
    "x": {"field": "x", "type": "quantitative", "axis": null},
    "y": {"field": "y", "type": "quantitative", "axis": null}
  }
},
{
  "data": {"name": "box"},
  "mark": {"type": "area", "opacity": 1, "stroke": "black", "strokeWidth": 1, "fill": {"gradient": "linear", "x1": 0, "y1": 0, "x2": 1.183, "y2": 0.683, "stops": [
{"offset":0,"color":"black"},{"offset":0.02,"color":"black"},{"offset":0.02,"color":"#fff"},{"offset":0.05,"color":"#fff"},
{"offset":0.05,"color":"black"},{"offset":0.07,"color":"black"},{"offset":0.07,"color":"#fff"},{"offset":0.1,"color":"#fff"},
{"offset":0.1,"color":"black"},{"offset":0.12,"color":"black"},{"offset":0.12,"color":"#fff"},{"offset":0.15,"color":"#fff"},
{"offset":0.15,"color":"black"},{"offset":0.17,"color":"black"},{"offset":0.17,"color":"#fff"},{"offset":0.2,"color":"#fff"},
{"offset":0.2,"color":"black"},{"offset":0.22,"color":"black"},{"offset":0.22,"color":"#fff"},{"offset":0.25,"color":"#fff"},
{"offset":0.25,"color":"black"},{"offset":0.27,"color":"black"},{"offset":0.27,"color":"#fff"},{"offset":0.3,"color":"#fff"},
{"offset":0.3,"color":"black"},{"offset":0.32,"color":"black"},{"offset":0.32,"color":"#fff"},{"offset":0.35,"color":"#fff"},
{"offset":0.35,"color":"black"},{"offset":0.37,"color":"black"},{"offset":0.37,"color":"#fff"},{"offset":0.4,"color":"#fff"},
{"offset":0.4,"color":"black"},{"offset":0.42,"color":"black"},{"offset":0.42,"color":"#fff"},{"offset":0.45,"color":"#fff"},
{"offset":0.45,"color":"black"},{"offset":0.47,"color":"black"},{"offset":0.47,"color":"#fff"},{"offset":0.5,"color":"#fff"},
{"offset":0.5,"color":"black"},{"offset":0.52,"color":"black"},{"offset":0.52,"color":"#fff"},{"offset":0.55,"color":"#fff"},
{"offset":0.55,"color":"black"},{"offset":0.57,"color":"black"},{"offset":0.57,"color":"#fff"},{"offset":0.6,"color":"#fff"},
{"offset":0.6,"color":"black"},{"offset":0.62,"color":"black"},{"offset":0.62,"color":"#fff"},{"offset":0.65,"color":"#fff"},
{"offset":0.65,"color":"black"},{"offset":0.67,"color":"black"},{"offset":0.67,"color":"#fff"},{"offset":0.7,"color":"#fff"},
{"offset":0.7,"color":"black"},{"offset":0.72,"color":"black"},{"offset":0.72,"color":"#fff"},{"offset":0.75,"color":"#fff"},
{"offset":0.75,"color":"black"},{"offset":0.77,"color":"black"},{"offset":0.77,"color":"#fff"},{"offset":0.8,"color":"#fff"},
{"offset":0.8,"color":"black"},{"offset":0.82,"color":"black"},{"offset":0.82,"color":"#fff"},{"offset":0.85,"color":"#fff"},
{"offset":0.85,"color":"black"},{"offset":0.87,"color":"black"},{"offset":0.87,"color":"#fff"},{"offset":0.9,"color":"#fff"},
{"offset":0.9,"color":"black"},{"offset":0.92,"color":"black"},{"offset":0.92,"color":"#fff"},{"offset":0.95,"color":"#fff"},
{"offset":0.95,"color":"black"},{"offset":0.97,"color":"black"},{"offset":0.97,"color":"#fff"},{"offset":1,"color":"#fff"}
  ]}},
  "encoding": {
    "x": {"field": "x", "type": "quantitative", "axis": null},
    "y": {"field": "y", "type": "quantitative", "axis": null},
    "y2": {"field": "y2"}
  }
},
{
  "data": {"name": "squares"},
  "mark": {"type": "point", "shape": "square", "filled": false, "size": 20, "stroke": "black", "strokeWidth": 1.2, "opacity": 1},
  "encoding": {
    "x": {"field": "x", "type": "quantitative", "axis": null},
    "y": {"field": "y", "type": "quantitative", "axis": null}
  }
},
{
  "data": {"name": "circles"},
  "mark": {"type": "point", "shape": "circle", "filled": false, "size": 42, "stroke": "black", "strokeWidth": 1.4, "opacity": 1},
  "encoding": {
    "x": {"field": "x", "type": "quantitative", "axis": null},
    "y": {"field": "y", "type": "quantitative", "axis": null}
  }
},
{
  "data": {"name": "triangles"},
  "mark": {"type": "point", "shape": "triangle-up", "filled": true, "size": 64, "color": "black", "opacity": 1},
  "encoding": {
    "x": {"field": "x", "type": "quantitative", "axis": null},
    "y": {"field": "y", "type": "quantitative", "axis": null}
  }
},
{
  "data": {"name": "regimes"},
  "mark": {"type": "rect", "fill": "white", "stroke": "#5a5a5a", "strokeWidth": 3, "opacity": 1},
  "encoding": {
    "x": {"field": "x1", "type": "quantitative", "axis": null},
    "x2": {"field": "x2"},
    "y": {"field": "y1", "type": "quantitative", "axis": null},
    "y2": {"field": "y2"}
  }
},
{
  "data": {"name": "regimes"},
  "mark": {"type": "text", "font": "Liberation Serif", "fontSize": 15, "lineBreak": "\n", "lineHeight": 20, "align": "center", "baseline": "middle", "dy": -10, "color": "black"},
  "encoding": {
    "x": {"field": "xc", "type": "quantitative", "axis": null},
    "y": {"field": "yc", "type": "quantitative", "axis": null},
    "text": {"field": "label"}
  }
},
{
  "data": {"name": "hlabel"},
  "mark": {"type": "text", "font": "Liberation Sans", "fontSize": 12, "align": "center", "baseline": "middle", "color": "black"},
  "encoding": {
    "x": {"field": "x", "type": "quantitative", "axis": null},
    "y": {"field": "y", "type": "quantitative", "axis": null},
    "text": {"field": "label"}
  }
}
]
}
